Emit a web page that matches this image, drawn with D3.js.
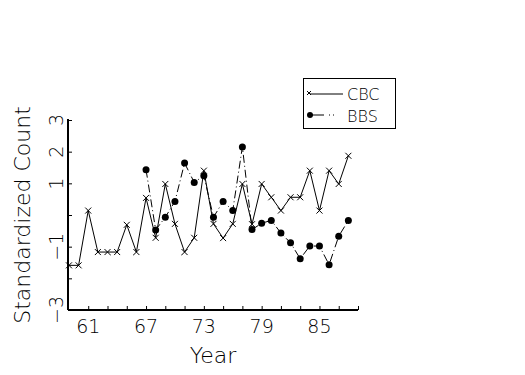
<!DOCTYPE html>
<html>
<head>
<meta charset="utf-8">
<script src="https://cdn.jsdelivr.net/npm/d3@7"></script>
<style>
  body { margin: 0; background: #fff; }
  text { font-family: 'DejaVu Sans', sans-serif; font-weight: 200; fill: #000; }
</style>
</head>
<body>
<div class="canvas"></div>
<script>
const cbcYears = d3.range(1959, 1989);
const cbcValues = [-1.59, -1.59, 0.14, -1.17, -1.17, -1.17, -0.31, -1.17, 0.54, -0.72,
  0.98, -0.28, -1.17, -0.72, 1.40, -0.28, -0.73, -0.28, 0.98, -0.29,
  0.98, 0.56, 0.14, 0.56, 0.56, 1.40, 0.14, 1.40, 0.98, 1.87];
const bbsYears = d3.range(1967, 1989);
const bbsValues = [1.43, -0.47, -0.07, 0.43, 1.64, 1.03, 1.24, -0.07, 0.43, 0.14, 2.15,
  -0.46, -0.26, -0.17, -0.57, -0.88, -1.38, -0.98, -0.98, -1.57, -0.67, -0.17];
const xTickLabels = [61, 67, 73, 79, 85];
const yTicks = [-3, -2, -1, 0, 1, 2, 3];
const yTickLabels = { '-3': '\u22123', '-1': '\u22121', '1': '1', '2': '2', '3': '3' };

const width = 525, height = 375;
const svg = d3.select('.canvas').append('svg').attr('width', width).attr('height', height);

const x = d3.scaleLinear().domain([1958.9, 1989]).range([68, 358]);
const y = d3.scaleLinear().domain([-3, 3]).range([310, 120]);

// axes
const xAxis = d3.axisBottom(x).tickValues(d3.range(1961, 1990, 2)).tickSize(-4).tickFormat('');
const xg = svg.append('g').attr('transform', 'translate(0,310)').call(xAxis);
xg.select('.domain').attr('stroke', '#000').attr('stroke-width', 2).attr('d', 'M68,0H358');
xg.selectAll('.tick line').attr('stroke', '#000');

svg.selectAll('.xlab').data(xTickLabels).enter().append('text')
  .attr('x', d => x(1900 + d)).attr('y', 333)
  .attr('text-anchor', 'middle').style('font-size', '19px').text(d => d);

const yAxis = d3.axisLeft(y).tickValues(yTicks).tickSize(-4).tickFormat('');
const yg = svg.append('g').attr('transform', 'translate(68,0)').call(yAxis);
yg.select('.domain').attr('stroke', '#000').attr('stroke-width', 2).attr('d', 'M0,310V119');
yg.selectAll('.tick line').attr('stroke', '#000');

svg.selectAll('.ylab').data(yTicks.filter(d => yTickLabels[d])).enter().append('text')
  .attr('transform', d => `translate(63,${y(d)}) rotate(-90)`)
  .attr('text-anchor', 'middle').style('font-size', '19px').text(d => yTickLabels[d]);

svg.append('text').attr('transform', 'translate(30,215) rotate(-90)')
  .attr('text-anchor', 'middle').style('font-size', '22px').text('Standardized Count');
svg.append('text').attr('x', 213).attr('y', 363)
  .attr('text-anchor', 'middle').style('font-size', '22px').text('Year');

// CBC series
const cbc = cbcYears.map((yr, i) => ({ yr, v: cbcValues[i] }));
const bbs = bbsYears.map((yr, i) => ({ yr, v: bbsValues[i] }));
const line = d3.line().x(d => x(d.yr)).y(d => y(d.v));

svg.append('path').datum(cbc).attr('fill', 'none').attr('stroke', '#000').attr('stroke-width', 1).attr('d', line);
svg.selectAll('.cross').data(cbc).enter().append('path')
  .attr('d', d => `M${x(d.yr) - 3},${y(d.v) - 3}L${x(d.yr) + 3},${y(d.v) + 3}M${x(d.yr) - 3},${y(d.v) + 3}L${x(d.yr) + 3},${y(d.v) - 3}`)
  .attr('stroke', '#000').attr('stroke-width', 1);

svg.append('path').datum(bbs).attr('fill', 'none').attr('stroke', '#000').attr('stroke-width', 1)
  .attr('stroke-dasharray', '8,3,1,3').attr('d', line);
svg.selectAll('.dot').data(bbs).enter().append('circle')
  .attr('cx', d => x(d.yr)).attr('cy', d => y(d.v)).attr('r', 3.5).attr('fill', '#000');

// legend
const lg = svg.append('g');
lg.append('rect').attr('x', 303.5).attr('y', 78.5).attr('width', 92).attr('height', 50)
  .attr('fill', 'none').attr('stroke', '#000').attr('stroke-width', 1);
lg.append('line').attr('x1', 310).attr('x2', 343).attr('y1', 94).attr('y2', 94).attr('stroke', '#000');
lg.append('path').attr('d', 'M307,91L311,95M307,95L311,91').attr('stroke', '#000');
lg.append('text').attr('x', 347).attr('y', 100).style('font-size', '16px').text('CBC');
lg.append('line').attr('x1', 310).attr('x2', 343).attr('y1', 115).attr('y2', 115).attr('stroke', '#000')
  .attr('stroke-dasharray', '14,5,1,3,1,30');
lg.append('circle').attr('cx', 310).attr('cy', 115).attr('r', 3).attr('fill', '#000');
lg.append('text').attr('x', 347).attr('y', 122).style('font-size', '16px').text('BBS');
</script>
</body>
</html>
